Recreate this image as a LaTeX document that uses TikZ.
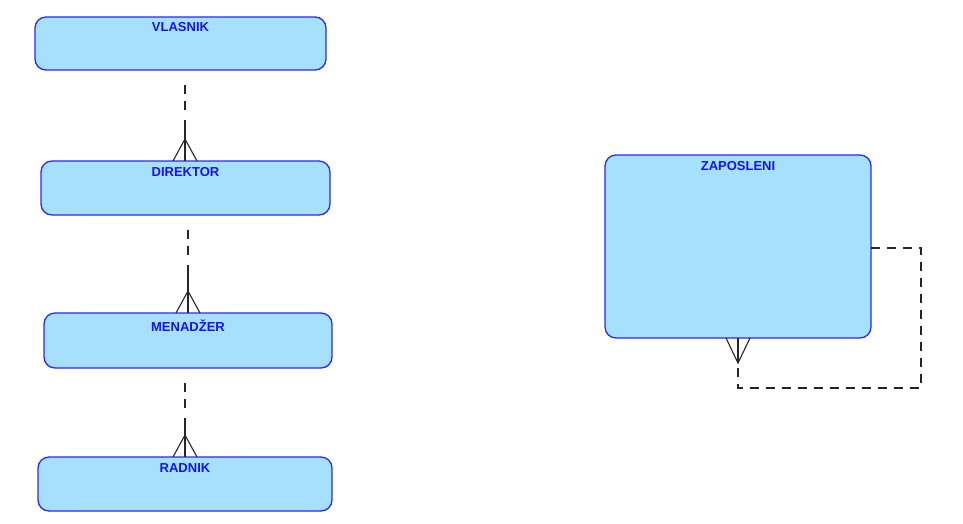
\documentclass[tikz,border=0pt]{standalone}
\usepackage{fontspec}
\setmainfont{Liberation Sans}
\begin{document}
\begin{tikzpicture}[x=1pt,y=-1pt,
  ent/.style={draw={rgb,255:red,40;green,40;blue,255},line width=1.3pt,fill={rgb,255:red,166;green,224;blue,253},rounded corners=11pt},
  ttl/.style={font=\bfseries\fontsize{13}{15}\selectfont,text={rgb,255:red,20;green,20;blue,240},anchor=north},
  rel/.style={line width=1.1pt,black!85},
  dsh/.style={rel,dash pattern=on 9pt off 7pt}]
\useasboundingbox (0,0) rectangle (963,523);
\draw[ent] (35,17) rectangle (326,70); \node[ttl] (v) at (180.5,19) {VLASNIK};
\draw[ent] (41,161) rectangle (330,215); \node[ttl] (d) at (185.5,164) {DIREKTOR};
\draw[ent] (44,313) rectangle (332,368); \node[ttl] (m) at (188,316) {MENADŽER};
\draw[ent] (38,457) rectangle (332,511); \node[ttl] (r) at (185,460) {RADNIK};
\draw[ent] (605,155) rectangle (871,338); \node[ttl] (z) at (738,158) {ZAPOSLENI};
\foreach \x/\a/\b in {185/70/161, 188/215/313, 185/368/457}{
  \draw[dsh] (\x,{\a+15}) -- (\x,{\a+45});
  \draw[rel] (\x,{\a+50}) -- (\x,\b);
  \draw[rel] (\x-12,\b) -- (\x,\b-22) -- (\x+12,\b);
}
\draw[dsh] (871,248) -- (921,248) -- (921,388) -- (738,388) -- (738,365);
\draw[rel] (726,338) -- (738,363) -- (750,338);
\draw[rel] (738,338) -- (738,363);
\end{tikzpicture}
\end{document}
